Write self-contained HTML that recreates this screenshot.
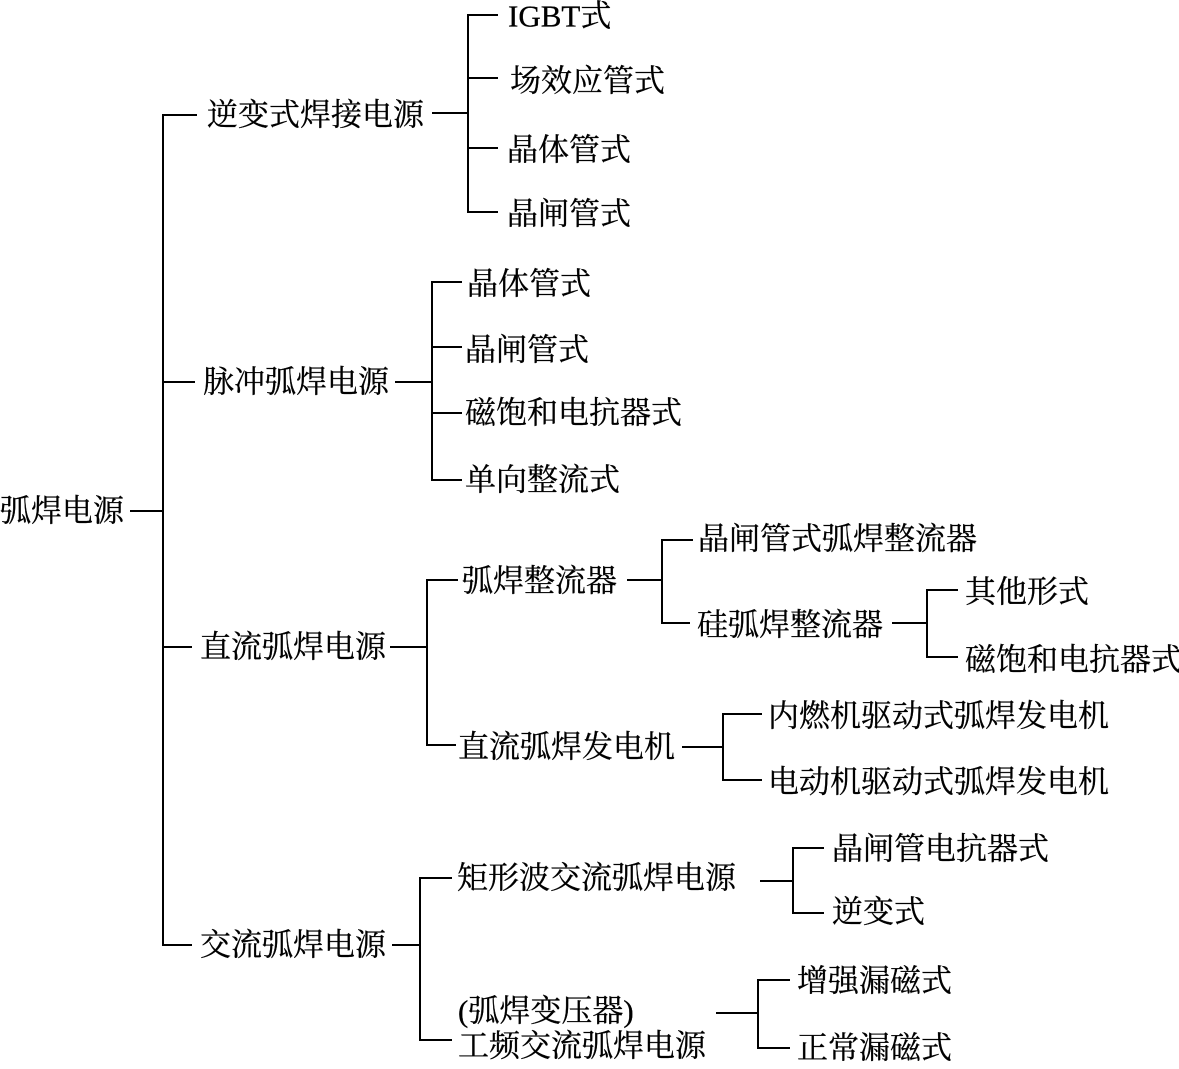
<!DOCTYPE html>
<html><head><meta charset="utf-8"><style>
html,body{margin:0;padding:0;background:#fff;}
svg text{font-family:"Liberation Serif","Noto Serif CJK SC",serif;font-size:31px;fill:#000;dominant-baseline:central;stroke:#000;stroke-width:0.3px;}
</style></head><body>
<svg width="1179" height="1064" viewBox="0 0 1179 1064" xmlns="http://www.w3.org/2000/svg">
<g stroke="#000" stroke-width="2" fill="none">
<line x1="130" y1="511" x2="163" y2="511"/>
<line x1="163" y1="114" x2="163" y2="946"/>
<line x1="163" y1="115" x2="197" y2="115"/>
<line x1="163" y1="382" x2="195" y2="382"/>
<line x1="163" y1="647" x2="192" y2="647"/>
<line x1="163" y1="945" x2="192" y2="945"/>
<line x1="432" y1="113" x2="468" y2="113"/>
<line x1="468" y1="14" x2="468" y2="213"/>
<line x1="468" y1="15" x2="498" y2="15"/>
<line x1="468" y1="78" x2="498" y2="78"/>
<line x1="468" y1="148" x2="498" y2="148"/>
<line x1="468" y1="212" x2="498" y2="212"/>
<line x1="395" y1="382" x2="432" y2="382"/>
<line x1="432" y1="281" x2="432" y2="481"/>
<line x1="432" y1="282" x2="462" y2="282"/>
<line x1="432" y1="347" x2="462" y2="347"/>
<line x1="432" y1="413" x2="462" y2="413"/>
<line x1="432" y1="480" x2="462" y2="480"/>
<line x1="390" y1="647" x2="427" y2="647"/>
<line x1="427" y1="579" x2="427" y2="746"/>
<line x1="427" y1="580" x2="458" y2="580"/>
<line x1="427" y1="745" x2="456" y2="745"/>
<line x1="627" y1="580" x2="662" y2="580"/>
<line x1="662" y1="539" x2="662" y2="624"/>
<line x1="662" y1="540" x2="693" y2="540"/>
<line x1="662" y1="623" x2="690" y2="623"/>
<line x1="892" y1="623" x2="927" y2="623"/>
<line x1="927" y1="589" x2="927" y2="658"/>
<line x1="927" y1="590" x2="958" y2="590"/>
<line x1="927" y1="657" x2="958" y2="657"/>
<line x1="682" y1="747" x2="723" y2="747"/>
<line x1="723" y1="713" x2="723" y2="781"/>
<line x1="723" y1="714" x2="762" y2="714"/>
<line x1="723" y1="780" x2="762" y2="780"/>
<line x1="392" y1="945" x2="420" y2="945"/>
<line x1="420" y1="877" x2="420" y2="1041"/>
<line x1="420" y1="878" x2="452" y2="878"/>
<line x1="420" y1="1040" x2="452" y2="1040"/>
<line x1="760" y1="881" x2="793" y2="881"/>
<line x1="793" y1="847" x2="793" y2="914"/>
<line x1="793" y1="848" x2="824" y2="848"/>
<line x1="793" y1="913" x2="824" y2="913"/>
<line x1="716" y1="1013" x2="758" y2="1013"/>
<line x1="758" y1="979" x2="758" y2="1049"/>
<line x1="758" y1="980" x2="790" y2="980"/>
<line x1="758" y1="1048" x2="790" y2="1048"/>
</g>
<text x="0" y="511">弧焊电源</text>
<text x="207" y="115">逆变式焊接电源</text>
<text x="203" y="382">脉冲弧焊电源</text>
<text x="200" y="647">直流弧焊电源</text>
<text x="200" y="945">交流弧焊电源</text>
<text x="508" y="16">IGBT式</text>
<text x="510" y="81">场效应管式</text>
<text x="507" y="150">晶体管式</text>
<text x="507" y="214">晶闸管式</text>
<text x="467" y="284">晶体管式</text>
<text x="465" y="350">晶闸管式</text>
<text x="465" y="413">磁饱和电抗器式</text>
<text x="465" y="480">单向整流式</text>
<text x="462" y="581">弧焊整流器</text>
<text x="698" y="539">晶闸管式弧焊整流器</text>
<text x="697" y="625">硅弧焊整流器</text>
<text x="965" y="592">其他形式</text>
<text x="965" y="660">磁饱和电抗器式</text>
<text x="458" y="747">直流弧焊发电机</text>
<text x="768" y="716">内燃机驱动式弧焊发电机</text>
<text x="768" y="782">电动机驱动式弧焊发电机</text>
<text x="457" y="878">矩形波交流弧焊电源</text>
<text x="832" y="849">晶闸管电抗器式</text>
<text x="832" y="912">逆变式</text>
<text x="458" y="1011">(弧焊变压器)</text>
<text x="458" y="1046">工频交流弧焊电源</text>
<text x="797" y="981">增强漏磁式</text>
<text x="797" y="1048">正常漏磁式</text>
</svg>
</body></html>
